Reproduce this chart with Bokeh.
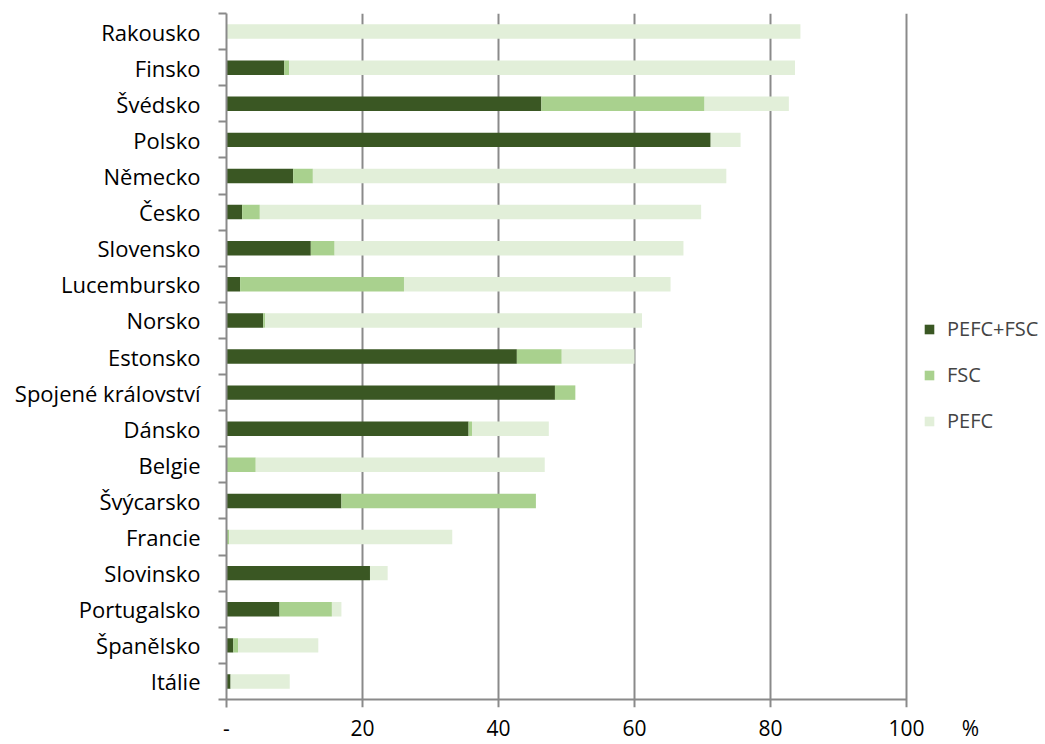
from bokeh.plotting import figure
from bokeh.models import ColumnDataSource, Range1d, FixedTicker, Legend, LegendItem
from bokeh.embed import file_html
from bokeh.resources import INLINE

countries = ["Rakousko", "Finsko", "Švédsko", "Polsko", "Německo", "Česko",
             "Slovensko", "Lucembursko", "Norsko", "Estonsko",
             "Spojené království", "Dánsko", "Belgie", "Švýcarsko", "Francie",
             "Slovinsko", "Portugalsko", "Španělsko", "Itálie"]
pefc_fsc = [0, 8.5, 46.3, 71.2, 9.8, 2.3, 12.4, 2.0, 5.4, 42.7,
            48.3, 35.6, 0, 16.9, 0, 21.1, 7.8, 1.0, 0.6]
fsc = [0, 0.7, 24.0, 0, 2.9, 2.6, 3.5, 24.1, 0.3, 6.6,
       3.0, 0.5, 4.3, 28.6, 0.4, 0, 7.7, 0.7, 0]
pefc = [84.4, 74.4, 12.4, 4.4, 60.8, 64.9, 51.3, 39.2, 55.4, 10.7,
        0, 11.3, 42.5, 0, 32.8, 2.6, 1.4, 11.8, 8.7]
x_ticks = [0, 20, 40, 60, 80, 100]
x_tick_labels = ["-", "20", "40", "60", "80", "100"]
unit_label = "%"
series = ["PEFC+FSC", "FSC", "PEFC"]
colors = ["#3A5723", "#A9D18E", "#E2EFD9"]

n = len(countries)
ypos = [n - 1 - i for i in range(n)]
src = ColumnDataSource(dict(y=ypos, a=pefc_fsc, b=fsc, c=pefc))

FONT = "Open Sans"
GRAY = "#8A8A8A"
X_END = 120.44          # frame runs on to the right edge (legend area)
UNIT_POS = 109.4        # where the "%" sits on the x scale
Y_LOW = -0.5 - 0.221    # a little room below the axis for the tick marks

p = figure(width=1045, height=744, output_backend="svg", toolbar_location=None,
           x_range=Range1d(0, X_END), y_range=Range1d(Y_LOW, n - 0.5),
           min_border_left=226, min_border_right=0, min_border_top=13,
           min_border_bottom=35)
p.outline_line_color = None

# grid lines (also act as the x tick marks below the axis line)
p.xgrid.ticker = FixedTicker(ticks=x_ticks)
p.xgrid.grid_line_color = GRAY
p.xgrid.grid_line_width = 2
p.ygrid.grid_line_color = None

renderers = p.hbar_stack(["a", "b", "c"], y="y", height=0.4, color=colors,
                         line_color=None, source=src)

# x axis line, from first to last tick, at the lower category boundary
p.segment(x0=[x_ticks[0]], y0=[-0.5], x1=[x_ticks[-1]], y1=[-0.5],
          line_color=GRAY, line_width=2)

# x axis: labels only
p.xaxis.ticker = FixedTicker(ticks=x_ticks + [UNIT_POS])
overrides = {t: l for t, l in zip(x_ticks, x_tick_labels)}
overrides[UNIT_POS] = unit_label
p.xaxis.major_label_overrides = overrides
p.xaxis.axis_line_color = None
p.xaxis.major_tick_line_color = None
p.xaxis.major_tick_in = 0
p.xaxis.major_tick_out = 0
p.xaxis.minor_tick_line_color = None
p.xaxis.minor_tick_out = 0
p.xaxis.major_label_standoff = 6
p.xaxis.major_label_text_font = FONT
p.xaxis.major_label_text_font_size = "21px"
p.xaxis.major_label_text_color = "#000000"

# y axis (labels at category centres, ticks between categories)
p.yaxis.ticker = FixedTicker(ticks=ypos, minor_ticks=[k - 0.5 for k in range(n + 1)])
p.yaxis.major_label_overrides = {y: c for y, c in zip(ypos, countries)}
p.yaxis.axis_line_color = GRAY
p.yaxis.axis_line_width = 2
p.yaxis.major_tick_line_color = None
p.yaxis.major_tick_out = 8
p.yaxis.major_tick_in = 0
p.yaxis.minor_tick_line_color = GRAY
p.yaxis.minor_tick_line_width = 2
p.yaxis.minor_tick_in = 0
p.yaxis.minor_tick_out = 8
p.yaxis.major_label_standoff = 18
p.yaxis.major_label_text_font = FONT
p.yaxis.major_label_text_font_size = "22px"
p.yaxis.major_label_text_color = "#000000"

legend = Legend(items=[LegendItem(label=s, renderers=[r]) for s, r in zip(series, renderers)],
                location=(697, 273), padding=0, margin=0, spacing=19,
                glyph_width=12, glyph_height=12, label_height=20, label_standoff=12,
                border_line_color=None, background_fill_alpha=0,
                label_text_font=FONT, label_text_font_size="20px")
p.add_layout(legend)

open("out.html", "w").write(file_html(p, INLINE))
